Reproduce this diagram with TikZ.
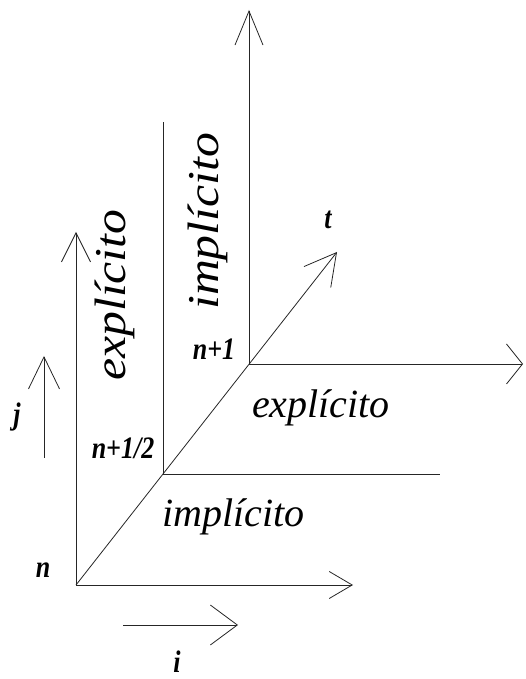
\documentclass[tikz,border=0pt]{standalone}
\usepackage{fontspec}
\setmainfont{Liberation Serif}
\usepackage{tikz}
\usetikzlibrary{arrows.meta}
\tikzset{
	axis/.style={draw=black!85,line width=0.8pt},
	barb/.style 2 args={-{Straight Barb[length=#1pt,width=#2pt,line width=0.8pt]}},
	lab/.style={font=\fontsize{26}{30}\selectfont\bfseries\itshape,inner sep=0pt,yscale=1.2},
	zone/.style={font=\fontsize{40}{48}\selectfont\itshape,inner sep=0pt},
	vzone/.style={font=\fontsize{44}{52}\selectfont\itshape,inner sep=0pt,rotate=90,xscale=1.13},
}
\begin{document}
\begin{tikzpicture}[x=1pt,y=1pt]
	\useasboundingbox (0,0) rectangle (525,679);
	% time levels on the diagonal
	\coordinate (n0) at (76,94);
	\coordinate (nh) at (163,205);
	\coordinate (nf) at (249,315);
	\coordinate (ttip) at (337,427);
	% axis ends
	\coordinate (itip) at (353,94);
	\coordinate (jtip) at (76,447);
	\coordinate (hv) at (163,557);
	\coordinate (hh) at (440,205);
	\coordinate (fv) at (249,669);
	\coordinate (fh) at (523,315);
	% direction arrows
	\coordinate (jsa) at (44,221);
	\coordinate (jsb) at (44,323);
	\coordinate (isa) at (123,54);
	\coordinate (isb) at (238,54);

	\draw[axis,barb={23}{27}] (n0)--(itip);
	\draw[axis,barb={29}{29}] (n0)--(jtip);
	\draw[axis,barb={31}{34}] (n0)--(ttip);
	\draw[axis] (nh)--(hv);
	\draw[axis] (nh)--(hh);
	\draw[axis,barb={34}{28}] (nf)--(fv);
	\draw[axis,barb={16}{40}] (nf)--(fh);
	\draw[axis,barb={32}{31}] (jsa)--(jsb);
	\draw[axis,barb={27}{40}] (isa)--(isb);

	\node[lab] (ln) at (43,109) {n};
	\node[lab] (lh) at (123,231) {n+1/2};
	\node[lab] (lf) at (214,330) {n+1};
	\node[lab] (lt) at (328,459) {t};
	\node[lab] (lj) at (17,262) {j};
	\node[lab] (li) at (177,17) {i};

	\node[zone,anchor=base west] (himp) at (162,152) {implícito};
	\node[zone,anchor=base west] (hexp) at (252,261) {explícito};
	\node[vzone,anchor=base west] (vexp) at (125,298) {explícito};
	\node[vzone,anchor=base west] (vimp) at (218,369) {implícito};
\end{tikzpicture}
\end{document}
